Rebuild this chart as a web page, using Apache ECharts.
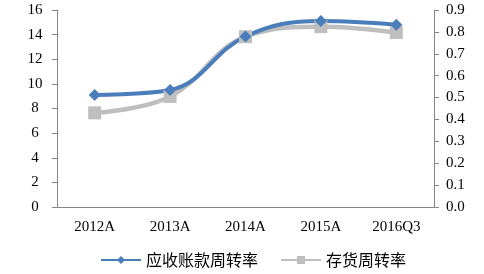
<!DOCTYPE html>
<html>
<head>
<meta charset="utf-8">
<script src="https://cdn.jsdelivr.net/npm/echarts@6/dist/echarts.min.js"></script>
<style>
  html, body { margin: 0; padding: 0; background: #fff; }
</style>
</head>
<body>
<div id="chart" style="width: 484px; height: 274px"></div>
<script>
// data
var categories = ['2012A', '2013A', '2014A', '2015A', '2016Q3']
var receivableTurnover = [9.1, 9.5, 13.85, 15.1, 14.8]
var inventoryTurnover = [0.43, 0.505, 0.778, 0.824, 0.797]
var leftTicks = [0, 16, 2]
var rightTicks = [0, 0.9, 0.1]

var axisColor = '#868686'
var labelFont = {
  color: '#000',
  fontFamily: '"Liberation Serif", "DejaVu Serif", serif',
  fontSize: 15
}

var chart = echarts.init(document.getElementById('chart'))
chart.setOption({
  animation: false,
  grid: {
    left: 57,
    right: 50,
    top: 10,
    bottom: 67
  },
  legend: {
    bottom: 1,
    left: 95,
    itemWidth: 40,
    itemHeight: 10,
    itemGap: 22,
    textStyle: {
      color: '#000',
      fontFamily: '"Noto Sans CJK SC", sans-serif',
      fontSize: 16
    },
    data: ['应收账款周转率', '存货周转率']
  },
  xAxis: {
    type: 'category',
    data: categories,
    boundaryGap: true,
    axisLine: { lineStyle: { color: axisColor } },
    axisTick: { lineStyle: { color: axisColor }, length: 5 },
    axisLabel: Object.assign({ margin: 13 }, labelFont)
  },
  yAxis: [
    {
      type: 'value',
      min: leftTicks[0],
      max: leftTicks[1],
      interval: leftTicks[2],
      axisLine: { show: true, lineStyle: { color: axisColor } },
      axisTick: { show: true, lineStyle: { color: axisColor }, length: 5 },
      splitLine: { show: false },
      axisLabel: Object.assign({ margin: 22, align: 'center' }, labelFont)
    },
    {
      type: 'value',
      min: rightTicks[0],
      max: rightTicks[1],
      interval: rightTicks[2],
      axisLine: { show: true, lineStyle: { color: axisColor } },
      axisTick: { show: true, lineStyle: { color: axisColor }, length: 5 },
      splitLine: { show: false },
      axisLabel: Object.assign({
        margin: 12,
        formatter: function (v) { return v.toFixed(1) }
      }, labelFont)
    }
  ],
  series: [
    {
      name: '存货周转率',
      type: 'line',
      yAxisIndex: 1,
      smooth: 0.4,
      data: inventoryTurnover,
      symbol: 'rect',
      symbolSize: 13,
      itemStyle: { color: '#BFBFBF' },
      lineStyle: { color: '#BFBFBF', width: 4.5 }
    },
    {
      name: '应收账款周转率',
      type: 'line',
      yAxisIndex: 0,
      smooth: 0.4,
      data: receivableTurnover,
      symbol: 'diamond',
      symbolSize: 12,
      itemStyle: { color: '#4A7EBB' },
      lineStyle: { color: '#4A7EBB', width: 4 }
    }
  ]
})
</script>
</body>
</html>
